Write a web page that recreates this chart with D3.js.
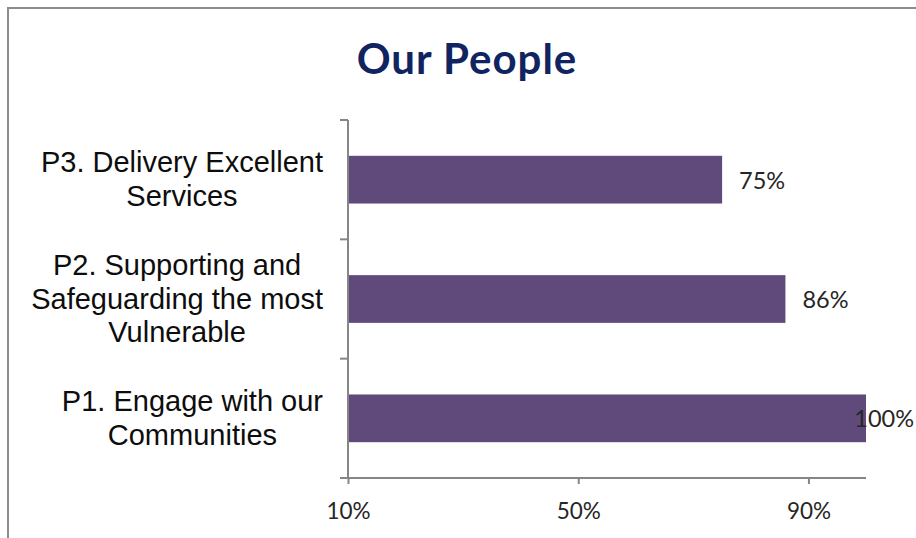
<!DOCTYPE html>
<html><head><meta charset="utf-8">
<script src="https://cdn.jsdelivr.net/npm/d3@7"></script>
<style>html,body{margin:0;padding:0;background:#fff;}svg{display:block;}</style>
</head><body>
<script>
const categories = [
  ["P3. Delivery Excellent", "Services"],
  ["P2. Supporting and", "Safeguarding the most", "Vulnerable"],
  ["P1. Engage with our", "Communities"]
];
const values = [0.75, 0.86, 1.00];
const valueLabels = ["75%", "86%", "100%"];
const tickValues = [0.1, 0.5, 0.9];
const tickLabels = ["10%", "50%", "90%"];
const title = "Our People";

const W = 916, H = 538;
const svg = d3.select("body").append("svg").attr("width", W).attr("height", H);

svg.append("rect").attr("x", 8).attr("y", 8).attr("width", W + 20).attr("height", H + 20)
  .attr("fill", "#fff").attr("stroke", "#8c8c8c").attr("stroke-width", 2);

svg.append("text").attr("x", 467).attr("y", 74).attr("text-anchor", "middle")
  .attr("font-family", "Lato, 'Open Sans', sans-serif").attr("font-weight", "bold")
  .attr("font-size", 42).attr("letter-spacing", 1).attr("fill", "#0f2460").text(title);

const x = d3.scaleLinear().domain([0.1, 1.0]).range([348, 866]);
const y = d3.scaleBand().domain(d3.range(categories.length)).range([120, 478]).paddingInner(0.6).paddingOuter(0.3);
const yb = d3.scaleBand().domain(d3.range(categories.length)).range([120, 478]);

// bars
svg.selectAll(".bar").data(values).enter().append("rect")
  .attr("x", x(0.1)).attr("y", (d, i) => y(i))
  .attr("width", d => x(d) - x(0.1)).attr("height", y.bandwidth())
  .attr("fill", "#604a7b");

// x axis
const xAxis = svg.append("g").attr("transform", "translate(0,478)")
  .call(d3.axisBottom(x).tickValues(tickValues).tickFormat((d, i) => tickLabels[i]).tickSize(6).tickSizeOuter(0).tickPadding(19));
xAxis.select(".domain").attr("stroke", "#868686").attr("stroke-width", 2).attr("d", `M${x(0.1)-8},0H${x(1.0)}`);
xAxis.selectAll(".tick line").attr("stroke", "#868686").attr("stroke-width", 2);
xAxis.selectAll(".tick text").attr("font-family", "Lato, sans-serif").attr("font-size", 22.5).attr("fill", "#262626");

// y axis
const yAxis = svg.append("g").attr("transform", `translate(${x(0.1)},0)`);
yAxis.append("line").attr("x1", 0).attr("x2", 0).attr("y1", 120).attr("y2", 478).attr("stroke", "#868686").attr("stroke-width", 2);
yAxis.selectAll(".yt").data(d3.range(categories.length + 1)).enter().append("line")
  .attr("x1", -8).attr("x2", 0)
  .attr("y1", i => i < categories.length ? yb(i) : 478)
  .attr("y2", i => i < categories.length ? yb(i) : 478)
  .attr("stroke", "#868686").attr("stroke-width", 2);

// category labels
const lineH = 33.5;
categories.forEach((lines, i) => {
  const g = svg.append("g");
  const texts = lines.map((l) => g.append("text").attr("font-family", "'Liberation Sans', Arial, sans-serif")
    .attr("font-size", 29).attr("fill", "#0d0d0d").attr("text-anchor", "middle").text(l));
  const maxW = d3.max(texts, t => t.node().getComputedTextLength());
  const cx = 323 - maxW / 2;
  const cy = yb(i) + yb.bandwidth() / 2;
  texts.forEach((t, j) => t.attr("x", cx).attr("y", cy + (j - (lines.length - 1) / 2) * lineH + 9.5));
});

// value labels
svg.selectAll(".vl").data(values).enter().append("text")
  .attr("font-family", "Lato, sans-serif").attr("font-size", 23.5).attr("fill", "#262626")
  .attr("y", (d, i) => y(i) + y.bandwidth() / 2 + 9)
  .text((d, i) => valueLabels[i])
  .attr("x", function(d) { const w = this.getComputedTextLength(); return Math.min(x(d) + 17, W - 2 - w); });
</script>
</body></html>
